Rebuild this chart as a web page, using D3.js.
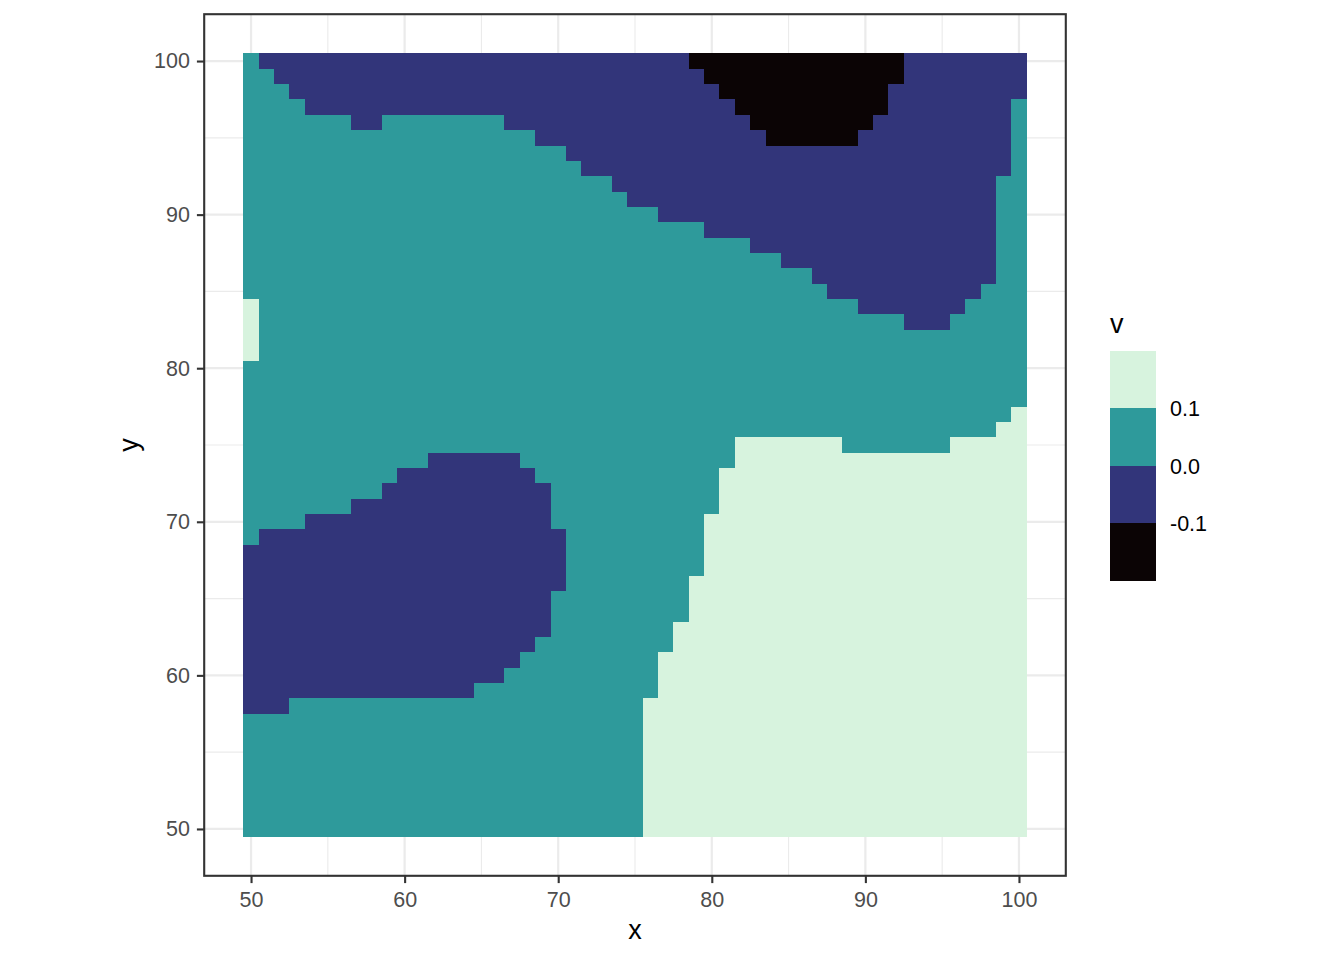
<!DOCTYPE html>
<html>
<head>
<meta charset="utf-8">
<script src="https://cdn.jsdelivr.net/npm/d3@7"></script>
<style>
  html, body { margin: 0; padding: 0; background: #ffffff; }
  svg { display: block; }
  text { font-family: "Liberation Sans", Arial, Helvetica, sans-serif; }
</style>
</head>
<body>
<svg id="chart" width="1344" height="960"></svg>
<script>
// ---- data ----
// grid coordinates
const xValues = d3.range(50, 101);           // 50..100
const yValuesTopDown = d3.range(100, 49, -1); // 100..50
// bin code -> representative value of v
const binValue = { L: 0.15, T: 0.05, N: -0.05, B: -0.15 };
// run-length encoded rows, from y = 100 (first) down to y = 50 (last); each run is code+count along x = 50..100
const rowRuns = [
  "T1 N28 B14 N8",            // 100
  "T2 N28 B13 N8",            // 99
  "T3 N28 B11 N9",            // 98
  "T4 N28 B10 N8 T1",         // 97
  "T7 N2 T8 N16 B8 N9 T1",    // 96
  "T19 N15 B6 N10 T1",        // 95
  "T21 N29 T1",               // 94
  "T22 N28 T1",               // 93
  "T24 N25 T2",               // 92
  "T25 N24 T2",               // 91
  "T27 N22 T2",               // 90
  "T30 N19 T2",               // 89
  "T33 N16 T2",               // 88
  "T35 N14 T2",               // 87
  "T37 N12 T2",               // 86
  "T38 N10 T3",               // 85
  "L1 T39 N7 T4",             // 84
  "L1 T42 N3 T5",             // 83
  "L1 T50",                   // 82
  "L1 T50",                   // 81
  "T51",                      // 80
  "T51",                      // 79
  "T51",                      // 78
  "T50 L1",                   // 77
  "T49 L2",                   // 76
  "T32 L7 T7 L5",             // 75
  "T12 N6 T14 L19",           // 74
  "T10 N9 T12 L20",           // 73
  "T9 N11 T11 L20",           // 72
  "T7 N13 T11 L20",           // 71
  "T4 N16 T10 L21",           // 70
  "T1 N20 T9 L21",            // 69
  "N21 T9 L21",               // 68
  "N21 T9 L21",               // 67
  "N21 T8 L22",               // 66
  "N20 T9 L22",               // 65
  "N20 T9 L22",               // 64
  "N20 T8 L23",               // 63
  "N19 T9 L23",               // 62
  "N18 T9 L24",               // 61
  "N17 T10 L24",              // 60
  "N15 T12 L24",              // 59
  "N3 T23 L25",               // 58
  "T26 L25",                  // 57
  "T26 L25",                  // 56
  "T26 L25",                  // 55
  "T26 L25",                  // 54
  "T26 L25",                  // 53
  "T26 L25",                  // 52
  "T26 L25",                  // 51
  "T26 L25"                   // 50
];
const xTicks = [50, 60, 70, 80, 90, 100];
const yTicks = [50, 60, 70, 80, 90, 100];
const minorBreaks = [55, 65, 75, 85, 95];
const legendBreaks = [-0.1, 0.0, 0.1];
const legendLabels = ["-0.1", "0.0", "0.1"];
const legendLimits = [-0.2, 0.2];
const binColors = ["#0B0405", "#32357A", "#2E9A9B", "#D7F3DE"];

// ---- build cells from runs ----
const cells = [];
rowRuns.forEach((row, ri) => {
  const yv = yValuesTopDown[ri];
  let xi = 0;
  row.trim().split(/\s+/).forEach(tok => {
    const code = tok[0];
    const n = +tok.slice(1);
    for (let k = 0; k < n; k++) {
      cells.push({ x: xValues[xi], y: yv, v: binValue[code] });
      xi++;
    }
  });
});

// ---- layout ----
const svg = d3.select("#chart");
const panel = { left: 204.2, top: 14.2, size: 861.6 };
const dom = [46.95, 103.05];
const x = d3.scaleLinear().domain(dom).range([panel.left, panel.left + panel.size]);
const y = d3.scaleLinear().domain(dom).range([panel.top + panel.size, panel.top]);
const color = d3.scaleThreshold().domain(legendBreaks).range(binColors);

// panel background
svg.append("rect")
  .attr("x", panel.left).attr("y", panel.top)
  .attr("width", panel.size).attr("height", panel.size)
  .attr("fill", "#ffffff");

// grid
const grid = svg.append("g");
minorBreaks.forEach(b => {
  grid.append("line").attr("x1", x(b)).attr("x2", x(b))
    .attr("y1", panel.top).attr("y2", panel.top + panel.size)
    .attr("stroke", "#EBEBEB").attr("stroke-width", 1.1);
  grid.append("line").attr("y1", y(b)).attr("y2", y(b))
    .attr("x1", panel.left).attr("x2", panel.left + panel.size)
    .attr("stroke", "#EBEBEB").attr("stroke-width", 1.1);
});
xTicks.forEach(b => {
  grid.append("line").attr("x1", x(b)).attr("x2", x(b))
    .attr("y1", panel.top).attr("y2", panel.top + panel.size)
    .attr("stroke", "#EBEBEB").attr("stroke-width", 2.2);
});
yTicks.forEach(b => {
  grid.append("line").attr("y1", y(b)).attr("y2", y(b))
    .attr("x1", panel.left).attr("x2", panel.left + panel.size)
    .attr("stroke", "#EBEBEB").attr("stroke-width", 2.2);
});

// tiles
svg.append("g")
  .attr("shape-rendering", "crispEdges")
  .selectAll("rect")
  .data(cells)
  .join("rect")
  .attr("x", d => x(d.x - 0.5))
  .attr("y", d => y(d.y + 0.5))
  .attr("width", d => x(d.x + 0.5) - x(d.x - 0.5) + 0.5)
  .attr("height", d => y(d.y - 0.5) - y(d.y + 0.5) + 0.5)
  .attr("fill", d => color(d.v));

// panel border
svg.append("rect")
  .attr("x", panel.left).attr("y", panel.top)
  .attr("width", panel.size).attr("height", panel.size)
  .attr("fill", "none").attr("stroke", "#333333").attr("stroke-width", 2.1);

// axes
const tickFont = 21.5;
const xAxis = svg.append("g")
  .attr("transform", `translate(0,${panel.top + panel.size})`)
  .call(d3.axisBottom(x).tickValues(xTicks).tickFormat(d3.format("d")).tickSize(7.3).tickPadding(9));
const yAxis = svg.append("g")
  .attr("transform", `translate(${panel.left},0)`)
  .call(d3.axisLeft(y).tickValues(yTicks).tickFormat(d3.format("d")).tickSize(7.3).tickPadding(7));
[xAxis, yAxis].forEach(g => {
  g.select(".domain").remove();
  g.selectAll(".tick line").attr("stroke", "#333333").attr("stroke-width", 2.1);
  g.selectAll(".tick text").attr("fill", "#4D4D4D").attr("font-size", tickFont)
    .attr("font-family", "Liberation Sans, Arial, sans-serif");
});

// axis titles
const titleFont = 27;
svg.append("text")
  .attr("x", panel.left + panel.size / 2).attr("y", 939)
  .attr("text-anchor", "middle").attr("font-size", titleFont).attr("fill", "#000")
  .text("x");
svg.append("text")
  .attr("transform", `translate(138,${panel.top + panel.size / 2}) rotate(-90)`)
  .attr("text-anchor", "middle").attr("font-size", titleFont).attr("fill", "#000")
  .text("y");

// legend
const leg = { x: 1110, top: 351, bottom: 580.7, w: 46 };
const ly = d3.scaleLinear().domain(legendLimits).range([leg.bottom, leg.top]);
const edges = [legendLimits[0], ...legendBreaks, legendLimits[1]];
const lg = svg.append("g");
lg.selectAll("rect")
  .data(d3.pairs(edges))
  .join("rect")
  .attr("x", leg.x)
  .attr("y", d => ly(d[1]))
  .attr("width", leg.w)
  .attr("height", d => ly(d[0]) - ly(d[1]))
  .attr("fill", d => color((d[0] + d[1]) / 2))
  .attr("shape-rendering", "crispEdges");
lg.selectAll("text.lab")
  .data(legendBreaks)
  .join("text")
  .attr("class", "lab")
  .attr("x", 1170)
  .attr("y", d => ly(d))
  .attr("dy", "0.36em")
  .attr("font-size", tickFont)
  .attr("fill", "#000")
  .text((d, i) => legendLabels[i]);
svg.append("text")
  .attr("x", 1110).attr("y", 333)
  .attr("font-size", titleFont).attr("fill", "#000")
  .text("v");
</script>
</body>
</html>
